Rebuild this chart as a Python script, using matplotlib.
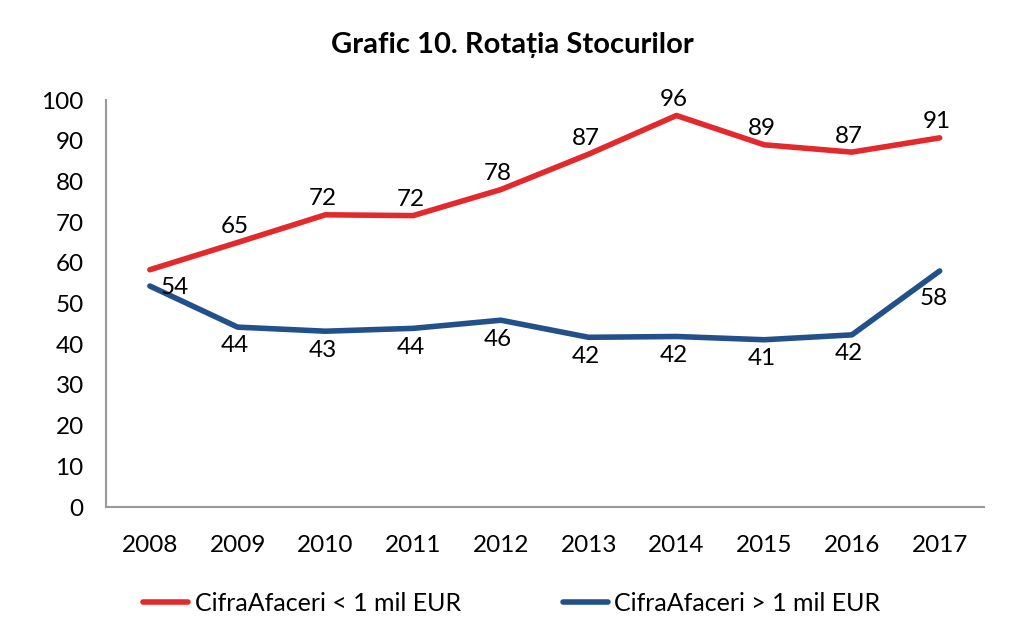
import numpy as np
import matplotlib
matplotlib.use("Agg")
import matplotlib.pyplot as plt

plt.rcParams['font.family'] = ['Lato', 'DejaVu Sans']

# ------------------------------------------------------------------------
# data
years = ['2008', '2009', '2010', '2011', '2012', '2013', '2014', '2015', '2016', '2017']
mici = [58.3, 65, 71.8, 71.6, 78, 86.7, 96.2, 89, 87.2, 90.7]
mari = [54.3, 44.2, 43.2, 43.9, 45.9, 41.7, 41.9, 41.1, 42.3, 58.0]
label_mici = ['', '65', '72', '72', '78', '87', '96', '89', '87', '91']
label_mari = ['54', '44', '43', '44', '46', '42', '42', '41', '42', '58']
yticks = [0, 10, 20, 30, 40, 50, 60, 70, 80, 90, 100]

RED = '#E3292B'
BLUE = '#22508A'
FS = 17.5

fig = plt.figure(figsize=(10.24, 6.33), dpi=100)
ax = fig.add_axes([0.1035, 0.199, 0.857, 0.643])

x = np.arange(len(years))
ax.plot(x, mici, color=RED, lw=4, solid_capstyle='round',
        label='CifraAfaceri < 1 mil EUR')
ax.plot(x, mari, color=BLUE, lw=4, solid_capstyle='round',
        label='CifraAfaceri > 1 mil EUR')

# data labels: red above, blue below (first blue to the right)
for i, t in enumerate(label_mici):
    if t:
        ax.annotate(t, (x[i], mici[i]), xytext=(-2, 4), textcoords='offset points',
                    ha='center', va='bottom', fontsize=FS)
for i, t in enumerate(label_mari):
    if i == 0:
        ax.annotate(t, (x[i], mari[i]), xytext=(8, -1), textcoords='offset points',
                    ha='left', va='center', fontsize=FS)
    elif i == len(years) - 1:
        ax.annotate(t, (x[i], mari[i]), xytext=(-4, -12), textcoords='offset points',
                    ha='center', va='top', fontsize=FS)
    else:
        ax.annotate(t, (x[i], mari[i]), xytext=(-2, -6), textcoords='offset points',
                    ha='center', va='top', fontsize=FS)

ax.set_xlim(-0.5, len(years) - 0.5)
ax.set_ylim(0, 100)
ax.set_xticks(x)
ax.set_xticklabels(years)
ax.set_yticks(yticks)
ax.tick_params(length=0, labelsize=FS)
ax.tick_params(axis='y', pad=16)
ax.tick_params(axis='x', pad=20)

for s in ['top', 'right']:
    ax.spines[s].set_visible(False)
for s in ['left', 'bottom']:
    ax.spines[s].set_color('#9a9a9a')
    ax.spines[s].set_linewidth(1.5)

fig.text(0.5, 0.929, 'Grafic 10. Rotația Stocurilor', ha='center', va='center',
         fontsize=21, fontweight='bold')

fig.legend(loc='center', bbox_to_anchor=(0.5, 0.047), ncol=2, frameon=False,
           fontsize=18, handlelength=1.8, handletextpad=0.25, columnspacing=4.1)

fig.savefig('out.png', dpi=100)
